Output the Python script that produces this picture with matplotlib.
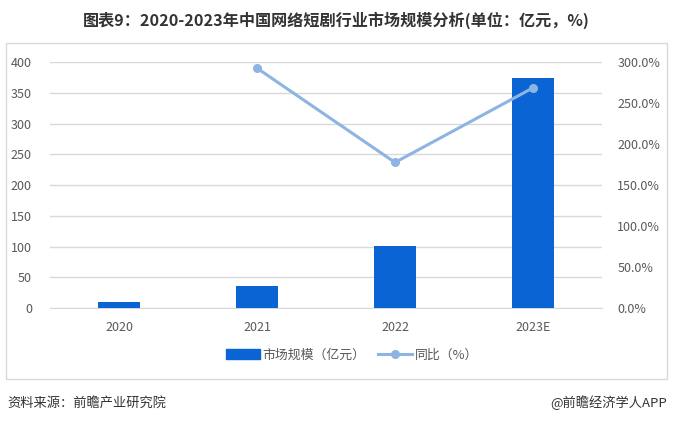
import matplotlib.pyplot as plt
from matplotlib.patches import Rectangle
from matplotlib.lines import Line2D
from matplotlib.ticker import FuncFormatter

plt.rcParams["font.family"] = ["Noto Sans CJK SC", "DejaVu Sans"]

years = ["2020", "2021", "2022", "2023E"]
market_size = [9.3, 36.5, 101.5, 374]          # 亿元
yoy_growth = [None, 292.5, 177.5, 268.5]       # %

BAR_COLOR = "#0b64d3"
LINE_COLOR = "#8db4e2"
TEXT_COLOR = "#595959"
GRID_COLOR = "#d9d9d9"

fig = plt.figure(figsize=(6.73, 4.23), dpi=100)

# outer chart frame
fig.patches.append(Rectangle((6 / 673, 1 - 379 / 423), 661 / 673, 336 / 423,
                             transform=fig.transFigure, fill=False,
                             edgecolor="#d9d9d9", linewidth=1))

ax = fig.add_axes([50 / 673, 1 - 308 / 423, 552 / 673, 246 / 423])
x = list(range(len(years)))
ax.bar(x, market_size, width=0.31, color=BAR_COLOR, zorder=3)
ax.set_xlim(-0.5, len(years) - 0.5)
ax.set_ylim(0, 400)
ax.set_yticks(range(0, 401, 50))
ax.set_xticks(x)
ax.set_xticklabels(years)
ax.grid(axis="y", color=GRID_COLOR, linewidth=1, zorder=0)
for s in ax.spines.values():
    s.set_visible(False)
ax.spines["bottom"].set_visible(True)
ax.spines["bottom"].set_color(GRID_COLOR)
ax.tick_params(axis="both", length=0, colors=TEXT_COLOR, labelsize=9)
ax.tick_params(axis="y", pad=13)
ax.tick_params(axis="x", pad=9)

ax2 = ax.twinx()
gx = [i for i, v in zip(x, yoy_growth) if v is not None]
gy = [v for v in yoy_growth if v is not None]
ax2.plot(gx, gy, color=LINE_COLOR, linewidth=2.2, marker="o", markersize=5.5, zorder=4)
ax2.set_ylim(0, 300)
ax2.set_yticks(range(0, 301, 50))
ax2.yaxis.set_major_formatter(FuncFormatter(lambda v, p: f"{v:.1f}%"))
for s in ax2.spines.values():
    s.set_visible(False)
ax2.tick_params(axis="y", length=0, colors=TEXT_COLOR, labelsize=9, pad=11)

fig.text(0.5, 1 - 20 / 423, "图表9：2020-2023年中国网络短剧行业市场规模分析(单位：亿元，%)",
         ha="center", va="center", fontsize=11.6, fontweight="bold", color="#333333")

handles = [Rectangle((0, 0), 1, 1, color=BAR_COLOR),
           Line2D([0], [0], color=LINE_COLOR, linewidth=2.2, marker="o", markersize=5.5)]
fig.legend(handles, ["市场规模（亿元）", "同比（%）"], loc="center",
           bbox_to_anchor=(352 / 673, 1 - 355 / 423), ncol=2, frameon=False,
           fontsize=9.3, labelcolor=TEXT_COLOR, handlelength=2.6, handletextpad=0.2,
           columnspacing=1.0)

fig.text(7 / 673, 1 - 403 / 423, "资料来源：前瞻产业研究院", ha="left", va="center",
         fontsize=9.5, color="#333333")
fig.text(667 / 673, 1 - 403 / 423, "@前瞻经济学人APP", ha="right", va="center",
         fontsize=9.5, color="#333333")

fig.savefig("out.png", dpi=100)
